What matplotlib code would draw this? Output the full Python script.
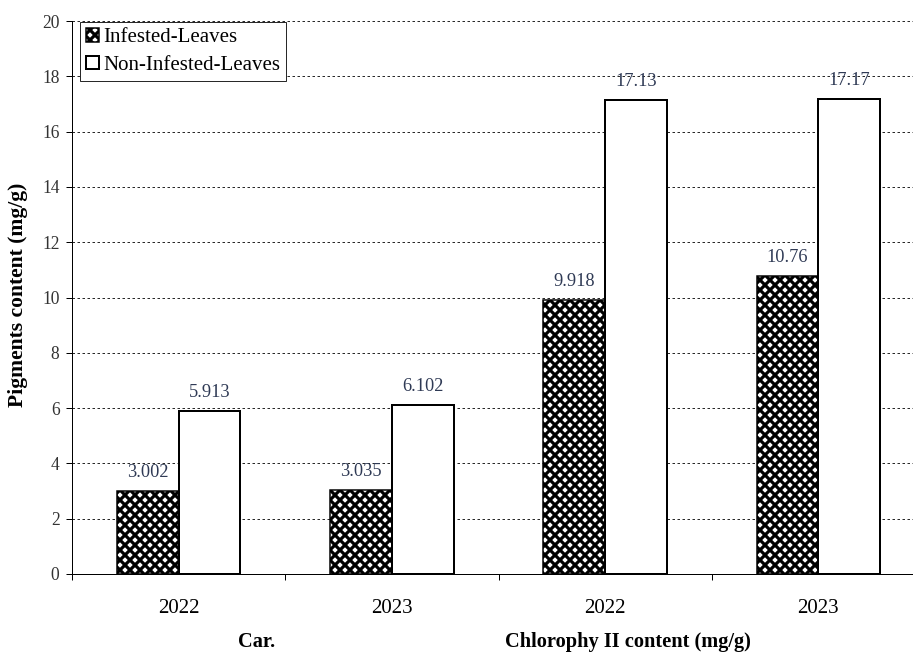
import numpy as np
import matplotlib.pyplot as plt

# Data: pigment content (mg/g) per season
years = ["2022", "2023", "2022", "2023"]
infested = [3.002, 3.035, 9.918, 10.76]
non_infested = [5.913, 6.102, 17.13, 17.17]
value_labels_inf = ["3.002", "3.035", "9.918", "10.76"]
value_labels_non = ["5.913", "6.102", "17.13", "17.17"]

plt.rcParams['font.family'] = ['Liberation Serif', 'DejaVu Serif']
plt.rcParams['hatch.linewidth'] = 3.8

DPI = 60
fig = plt.figure(figsize=(913 / DPI, 653 / DPI), dpi=DPI)
ax = fig.add_axes([72 / 913, 79 / 653, 853 / 913, 553 / 653])

txt = '#333333'
x = np.arange(len(years)) + 0.5
w = 0.29

ax.set_axisbelow(True)
ax.yaxis.grid(True, color='black', linestyle=(0, (3, 3)), linewidth=1.0)

b1 = ax.bar(x - w / 2, infested, w, facecolor='white', edgecolor='black',
            hatch='xx', linewidth=1.8, label='Infested-Leaves', zorder=2)
b2 = ax.bar(x + w / 2, non_infested, w, facecolor='white', edgecolor='black',
            linewidth=2.4, label='Non-Infested-Leaves', zorder=2)

for xi, v, s in zip(x - w / 2, infested, value_labels_inf):
    ax.annotate(s, (xi, v), xytext=(0, 12), textcoords='offset points',
                ha='center', va='bottom', fontsize=22, color='#2f3a55')
for xi, v, s in zip(x + w / 2, non_infested, value_labels_non):
    ax.annotate(s, (xi, v), xytext=(0, 12), textcoords='offset points',
                ha='center', va='bottom', fontsize=22, color='#2f3a55')

ax.set_xlim(0, 4)
ax.set_ylim(0, 20)
ax.set_yticks(np.arange(0, 21, 2))
ax.set_xticks(np.arange(0, 5))
ax.set_xticklabels([])
ax.set_xticks(x, minor=True)
ax.set_xticklabels(years, minor=True)
ax.tick_params(axis='x', which='major', direction='out', length=7, width=1.2)
ax.tick_params(axis='x', which='minor', length=0, pad=30, labelsize=25, labelcolor='black')
ax.tick_params(axis='y', direction='out', length=7, width=1.2, pad=8,
               labelsize=21, labelcolor=txt)

for side in ['top', 'right']:
    ax.spines[side].set_visible(False)
ax.spines['left'].set_linewidth(1.2)
ax.spines['bottom'].set_linewidth(1.2)

fig.text(18 / 913, 1 - 295 / 653, 'Pigments content (mg/g)', rotation=90,
         ha='center', va='center', fontsize=26, fontweight='bold')
fig.text(257 / 913, 1 - 642 / 653, 'Car.', ha='center', va='center',
         fontsize=24.5, fontweight='bold')
fig.text(628 / 913, 1 - 642 / 653, 'Chlorophy II content (mg/g)', ha='center',
         va='center', fontsize=24.5, fontweight='bold')

leg = ax.legend(loc='upper left', bbox_to_anchor=(80 / 913, 1 - 22 / 653),
                bbox_transform=fig.transFigure, borderaxespad=0, fontsize=25,
                fancybox=False, edgecolor='black', framealpha=1,
                handlelength=0.6, handleheight=0.6, handletextpad=0.2,
                labelspacing=0.4, borderpad=0.3)
leg.get_frame().set_linewidth(1.0)
for t in leg.get_texts():
    t.set_color('black')

fig.savefig('out.png', dpi=DPI)
